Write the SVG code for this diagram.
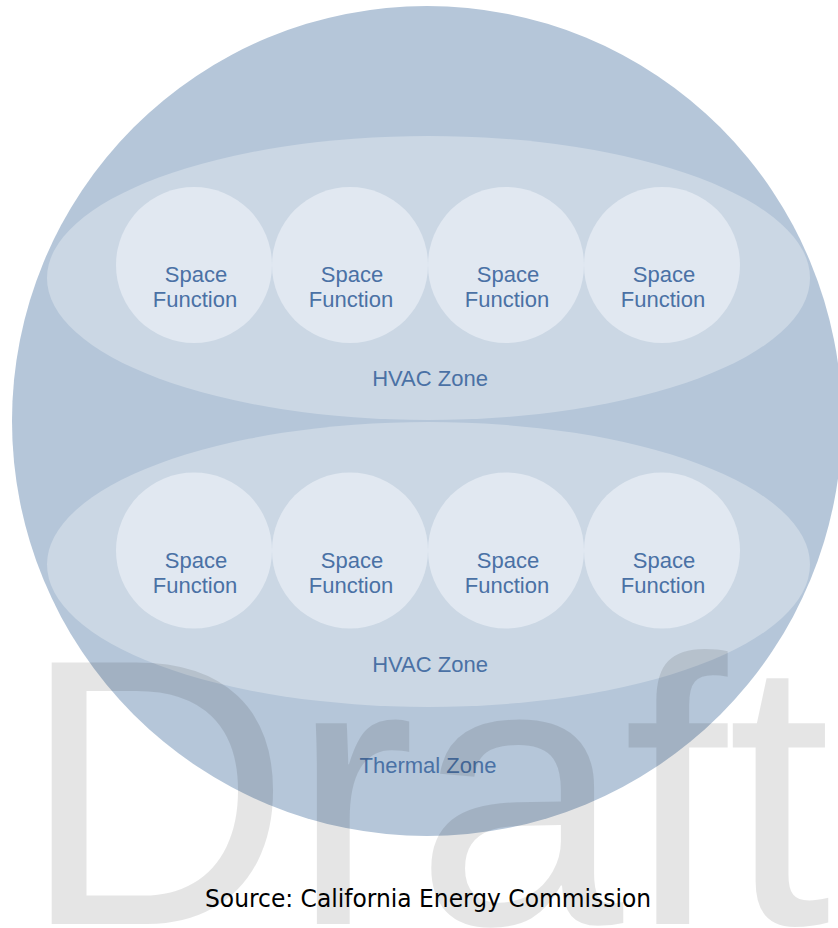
<svg xmlns="http://www.w3.org/2000/svg" width="838" height="928" viewBox="0 0 838 928">
<style>
.zone{fill:#cbd7e4}
.sf{fill:#e1e8f1}
.lbl{font-family:"Liberation Sans",Arial,sans-serif;font-size:22px;fill:#4a71a5;text-anchor:middle}
</style>
<rect width="838" height="928" fill="#ffffff"/>
<g id="thermal-zone">
<circle cx="427" cy="421" r="415" fill="#b5c6d9"/>
<text class="lbl" x="428" y="773">Thermal Zone</text>
</g>
<g id="hvac-zone-1">
<ellipse class="zone" cx="428.5" cy="278" rx="381.5" ry="142"/>
<text class="lbl" x="430" y="386">HVAC Zone</text>
</g>
<g id="hvac-zone-2">
<ellipse class="zone" cx="428.5" cy="564.5" rx="381.5" ry="142.5"/>
<text class="lbl" x="430" y="672">HVAC Zone</text>
</g>
<g id="sf-1-1"><circle class="sf" cx="194" cy="265" r="78"/><text class="lbl" x="196" y="282">Space</text><text class="lbl" x="195" y="307">Function</text></g>
<g id="sf-1-2"><circle class="sf" cx="350" cy="265" r="78"/><text class="lbl" x="352" y="282">Space</text><text class="lbl" x="351" y="307">Function</text></g>
<g id="sf-1-3"><circle class="sf" cx="506" cy="265" r="78"/><text class="lbl" x="508" y="282">Space</text><text class="lbl" x="507" y="307">Function</text></g>
<g id="sf-1-4"><circle class="sf" cx="662" cy="265" r="78"/><text class="lbl" x="664" y="282">Space</text><text class="lbl" x="663" y="307">Function</text></g>
<g id="sf-2-1"><circle class="sf" cx="194" cy="550.5" r="78"/><text class="lbl" x="196" y="568">Space</text><text class="lbl" x="195" y="593">Function</text></g>
<g id="sf-2-2"><circle class="sf" cx="350" cy="550.5" r="78"/><text class="lbl" x="352" y="568">Space</text><text class="lbl" x="351" y="593">Function</text></g>
<g id="sf-2-3"><circle class="sf" cx="506" cy="550.5" r="78"/><text class="lbl" x="508" y="568">Space</text><text class="lbl" x="507" y="593">Function</text></g>
<g id="sf-2-4"><circle class="sf" cx="662" cy="550.5" r="78"/><text class="lbl" x="664" y="568">Space</text><text class="lbl" x="663" y="593">Function</text></g>
<g id="connectors"></g>
<text x="21" y="924" font-family="'Liberation Sans',Arial,sans-serif" font-size="380" fill="#000000" fill-opacity="0.1" textLength="810" lengthAdjust="spacingAndGlyphs">Draft</text>
<text x="205" y="907" font-family="'DejaVu Sans',Verdana,sans-serif" font-size="24" fill="#000000" textLength="446" lengthAdjust="spacingAndGlyphs">Source: California Energy Commission</text>
</svg>
